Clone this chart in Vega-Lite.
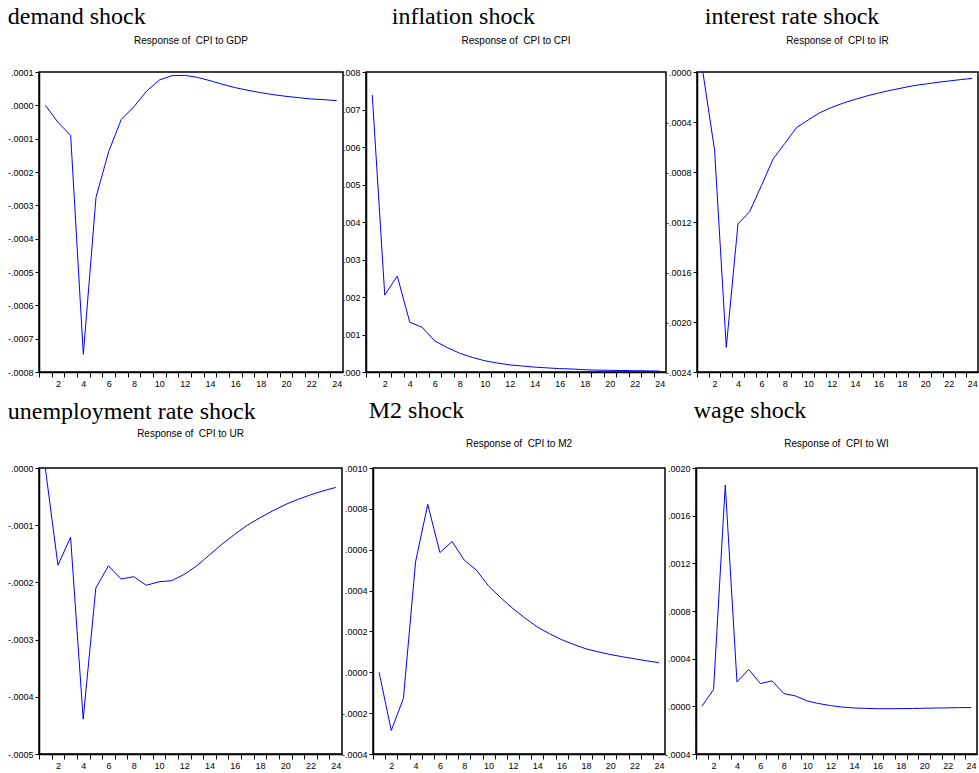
{
 "$schema": "https://vega.github.io/schema/vega-lite/v6.json",
 "background": "white",
 "padding": {"left": 6, "top": 5, "right": 0, "bottom": 0},
 "datasets": {
  "gdp": [{"period":1,"response":0.0},{"period":2,"response":-0.000051},{"period":3,"response":-0.00009},{"period":4,"response":-0.000747},{"period":5,"response":-0.000276},{"period":6,"response":-0.000139},{"period":7,"response":-0.000042},{"period":8,"response":-0.000004},{"period":9,"response":0.000043},{"period":10,"response":0.000076},{"period":11,"response":0.000089},{"period":12,"response":0.00009},{"period":13,"response":0.000084},{"period":14,"response":0.000074},{"period":15,"response":0.000063},{"period":16,"response":0.000053},{"period":17,"response":0.000045},{"period":18,"response":0.000038},{"period":19,"response":0.000032},{"period":20,"response":0.000027},{"period":21,"response":0.000023},{"period":22,"response":0.000019},{"period":23,"response":0.000017},{"period":24,"response":0.000014}],
  "cpi": [{"period":1,"response":0.00739},{"period":2,"response":0.00205},{"period":3,"response":0.00256},{"period":4,"response":0.00133},{"period":5,"response":0.00119},{"period":6,"response":0.00083},{"period":7,"response":0.00065},{"period":8,"response":0.0005},{"period":9,"response":0.00039},{"period":10,"response":0.0003},{"period":11,"response":0.00024},{"period":12,"response":0.00019},{"period":13,"response":0.00016},{"period":14,"response":0.00013},{"period":15,"response":0.00011},{"period":16,"response":0.00009},{"period":17,"response":0.00008},{"period":18,"response":0.00006},{"period":19,"response":0.00005},{"period":20,"response":0.000045},{"period":21,"response":0.00004},{"period":22,"response":0.000035},{"period":23,"response":0.00003},{"period":24,"response":0.000025}],
  "ir": [{"period":1,"response":0.0},{"period":2,"response":-0.000624},{"period":3,"response":-0.002203},{"period":4,"response":-0.001216},{"period":5,"response":-0.001117},{"period":6,"response":-0.000909},{"period":7,"response":-0.000696},{"period":8,"response":-0.000571},{"period":9,"response":-0.000445},{"period":10,"response":-0.000384},{"period":11,"response":-0.000325},{"period":12,"response":-0.000283},{"period":13,"response":-0.000248},{"period":14,"response":-0.000219},{"period":15,"response":-0.000192},{"period":16,"response":-0.000168},{"period":17,"response":-0.000147},{"period":18,"response":-0.000128},{"period":19,"response":-0.000109},{"period":20,"response":-0.000096},{"period":21,"response":-0.000083},{"period":22,"response":-0.000072},{"period":23,"response":-0.000061},{"period":24,"response":-0.000051}],
  "ur": [{"period":1,"response":0.0},{"period":2,"response":-0.00017},{"period":3,"response":-0.000121},{"period":4,"response":-0.000439},{"period":5,"response":-0.00021},{"period":6,"response":-0.000171},{"period":7,"response":-0.000194},{"period":8,"response":-0.00019},{"period":9,"response":-0.000205},{"period":10,"response":-0.000199},{"period":11,"response":-0.000197},{"period":12,"response":-0.000186},{"period":13,"response":-0.000171},{"period":14,"response":-0.000152},{"period":15,"response":-0.000133},{"period":16,"response":-0.000116},{"period":17,"response":-0.0001},{"period":18,"response":-0.000087},{"period":19,"response":-0.000075},{"period":20,"response":-0.000064},{"period":21,"response":-0.000055},{"period":22,"response":-0.000047},{"period":23,"response":-0.00004},{"period":24,"response":-0.000034}],
  "m2": [{"period":1,"response":0.0},{"period":2,"response":-0.000285},{"period":3,"response":-0.000128},{"period":4,"response":0.000541},{"period":5,"response":0.000822},{"period":6,"response":0.000586},{"period":7,"response":0.00064},{"period":8,"response":0.000549},{"period":9,"response":0.0005},{"period":10,"response":0.000422},{"period":11,"response":0.000365},{"period":12,"response":0.000312},{"period":13,"response":0.000265},{"period":14,"response":0.000222},{"period":15,"response":0.000189},{"period":16,"response":0.00016},{"period":17,"response":0.000136},{"period":18,"response":0.000115},{"period":19,"response":0.0001},{"period":20,"response":0.000087},{"period":21,"response":0.000076},{"period":22,"response":0.000066},{"period":23,"response":0.000056},{"period":24,"response":0.000047}],
  "wi": [{"period":1,"response":0.0},{"period":2,"response":0.000141},{"period":3,"response":0.001857},{"period":4,"response":0.000205},{"period":5,"response":0.000309},{"period":6,"response":0.000191},{"period":7,"response":0.000214},{"period":8,"response":0.000107},{"period":9,"response":0.000087},{"period":10,"response":0.000045},{"period":11,"response":0.000023},{"period":12,"response":0.000006},{"period":13,"response":-0.000006},{"period":14,"response":-0.000014},{"period":15,"response":-0.000017},{"period":16,"response":-0.00002},{"period":17,"response":-0.00002},{"period":18,"response":-0.000019},{"period":19,"response":-0.000018},{"period":20,"response":-0.000016},{"period":21,"response":-0.000014},{"period":22,"response":-0.000013},{"period":23,"response":-0.000011},{"period":24,"response":-0.00001}]
 },
 "spacing": 10,
 "vconcat": [
 {
 "columns": 3,
 "align": "none",
 "spacing": {"row": 0, "column": -3},
 "concat": [
  {
   "title": {"text": "demand shock", "font": "Liberation Serif", "fontSize": 24, "fontWeight": "normal", "color": "#000", "dx": 1, "offset": 6},
   "vconcat": [{
    "width": 304, "height": 300,
    "title": {"text": "Response of\u00a0 CPI to GDP", "font": "Liberation Sans Narrow, Arial Narrow, Liberation Sans", "fontSize": 10, "fontWeight": "normal", "color": "#000", "anchor": "middle", "offset": 22},
    "data": {"name": "gdp"},
    "mark": {"type": "line", "color": "#0000ff", "strokeWidth": 1},
    "encoding": {
     "x": {"field": "period", "type": "quantitative", "title": null, "scale": {"domain": [0.5, 24.5], "nice": false, "zero": false},
      "axis": {"values": [0.5,1.5,2.5,3.5,4.5,5.5,6.5,7.5,8.5,9.5,10.5,11.5,12.5,13.5,14.5,15.5,16.5,17.5,18.5,19.5,20.5,21.5,22.5,23.5], "labelExpr": "(datum.value - 1.5) % 2 == 0 ? format(datum.value + 0.5, 'd') : ''", "labelOffset": 6.3}},
     "y": {"field": "response", "type": "quantitative", "title": null, "scale": {"domain": [-0.0008, 0.0001], "nice": false, "zero": false},
      "axis": {"values": [-0.0008,-0.0007,-0.0006,-0.0005,-0.0004,-0.0003,-0.0002,-0.0001,0,0.0001], "labelExpr": "replace(replace(format(datum.value, '.4f'), '0.', '.'), '−', '-')"}}
    }
   }]
  },
  {
   "title": {"text": "inflation shock", "font": "Liberation Serif", "fontSize": 24, "fontWeight": "normal", "color": "#000", "dx": 50, "offset": 6},
   "vconcat": [{
    "width": 300, "height": 300,
    "title": {"text": "Response of\u00a0 CPI to CPI", "font": "Liberation Sans Narrow, Arial Narrow, Liberation Sans", "fontSize": 10, "fontWeight": "normal", "color": "#000", "anchor": "middle", "offset": 22},
    "data": {"name": "cpi"},
    "mark": {"type": "line", "color": "#0000ff", "strokeWidth": 1},
    "encoding": {
     "x": {"field": "period", "type": "quantitative", "title": null, "scale": {"domain": [0.5, 24.5], "nice": false, "zero": false},
      "axis": {"values": [0.5,1.5,2.5,3.5,4.5,5.5,6.5,7.5,8.5,9.5,10.5,11.5,12.5,13.5,14.5,15.5,16.5,17.5,18.5,19.5,20.5,21.5,22.5,23.5], "labelExpr": "(datum.value - 1.5) % 2 == 0 ? format(datum.value + 0.5, 'd') : ''", "labelOffset": 6.2}},
     "y": {"field": "response", "type": "quantitative", "title": null, "scale": {"domain": [0, 0.008], "nice": false, "zero": false},
      "axis": {"values": [0,0.001,0.002,0.003,0.004,0.005,0.006,0.007,0.008], "labelExpr": "replace(replace(format(datum.value, '.3f'), '0.', '.'), '−', '-')"}}
    }
   }]
  },
  {
   "title": {"text": "interest rate shock", "font": "Liberation Serif", "fontSize": 24, "fontWeight": "normal", "color": "#000", "dx": 40, "offset": 6},
   "vconcat": [{
    "width": 281, "height": 300,
    "title": {"text": "Response of\u00a0 CPI to IR", "font": "Liberation Sans Narrow, Arial Narrow, Liberation Sans", "fontSize": 10, "fontWeight": "normal", "color": "#000", "anchor": "middle", "offset": 22},
    "data": {"name": "ir"},
    "mark": {"type": "line", "color": "#0000ff", "strokeWidth": 1},
    "encoding": {
     "x": {"field": "period", "type": "quantitative", "title": null, "scale": {"domain": [0.5, 24.5], "nice": false, "zero": false},
      "axis": {"values": [0.5,1.5,2.5,3.5,4.5,5.5,6.5,7.5,8.5,9.5,10.5,11.5,12.5,13.5,14.5,15.5,16.5,17.5,18.5,19.5,20.5,21.5,22.5,23.5], "labelExpr": "(datum.value - 1.5) % 2 == 0 ? format(datum.value + 0.5, 'd') : ''", "labelOffset": 5.9}},
     "y": {"field": "response", "type": "quantitative", "title": null, "scale": {"domain": [-0.0024, 0], "nice": false, "zero": false},
      "axis": {"values": [-0.0024,-0.002,-0.0016,-0.0012,-0.0008,-0.0004,0], "labelExpr": "replace(replace(format(datum.value, '.4f'), '0.', '.'), '−', '-')"}}
    }
   }]
  }
 ]
 },
 {
 "columns": 3,
 "align": "none",
 "spacing": {"row": 0, "column": -3},
 "concat": [
  {
   "title": {"text": "unemployment rate shock", "font": "Liberation Serif", "fontSize": 24, "fontWeight": "normal", "color": "#000", "dx": 1, "offset": 4},
   "vconcat": [{
    "width": 303, "height": 286,
    "title": {"text": "Response of\u00a0 CPI to UR", "font": "Liberation Sans Narrow, Arial Narrow, Liberation Sans", "fontSize": 10, "fontWeight": "normal", "color": "#000", "anchor": "middle", "offset": 25},
    "data": {"name": "ur"},
    "mark": {"type": "line", "color": "#0000ff", "strokeWidth": 1},
    "encoding": {
     "x": {"field": "period", "type": "quantitative", "title": null, "scale": {"domain": [0.5, 24.5], "nice": false, "zero": false},
      "axis": {"values": [0.5,1.5,2.5,3.5,4.5,5.5,6.5,7.5,8.5,9.5,10.5,11.5,12.5,13.5,14.5,15.5,16.5,17.5,18.5,19.5,20.5,21.5,22.5,23.5], "labelExpr": "(datum.value - 1.5) % 2 == 0 ? format(datum.value + 0.5, 'd') : ''", "labelOffset": 6.3}},
     "y": {"field": "response", "type": "quantitative", "title": null, "scale": {"domain": [-0.0005, 0], "nice": false, "zero": false},
      "axis": {"values": [-0.0005,-0.0004,-0.0003,-0.0002,-0.0001,0], "labelExpr": "replace(replace(format(datum.value, '.4f'), '0.', '.'), '−', '-')"}}
    }
   }]
  },
  {
   "title": {"text": "M2 shock", "font": "Liberation Serif", "fontSize": 24, "fontWeight": "normal", "color": "#000", "dx": 28, "offset": 15},
   "vconcat": [{
    "width": 292, "height": 286,
    "title": {"text": "Response of\u00a0 CPI to M2", "font": "Liberation Sans Narrow, Arial Narrow, Liberation Sans", "fontSize": 10, "fontWeight": "normal", "color": "#000", "anchor": "middle", "offset": 15},
    "data": {"name": "m2"},
    "mark": {"type": "line", "color": "#0000ff", "strokeWidth": 1},
    "encoding": {
     "x": {"field": "period", "type": "quantitative", "title": null, "scale": {"domain": [0.5, 24.5], "nice": false, "zero": false},
      "axis": {"values": [0.5,1.5,2.5,3.5,4.5,5.5,6.5,7.5,8.5,9.5,10.5,11.5,12.5,13.5,14.5,15.5,16.5,17.5,18.5,19.5,20.5,21.5,22.5,23.5], "labelExpr": "(datum.value - 1.5) % 2 == 0 ? format(datum.value + 0.5, 'd') : ''", "labelOffset": 6.1}},
     "y": {"field": "response", "type": "quantitative", "title": null, "scale": {"domain": [-0.0004, 0.001], "nice": false, "zero": false},
      "axis": {"values": [-0.0004,-0.0002,0,0.0002,0.0004,0.0006,0.0008,0.001], "labelExpr": "replace(replace(format(datum.value, '.4f'), '0.', '.'), '−', '-')"}}
    }
   }]
  },
  {
   "title": {"text": "wage shock", "font": "Liberation Serif", "fontSize": 24, "fontWeight": "normal", "color": "#000", "dx": 30, "offset": 15},
   "vconcat": [{
    "width": 281, "height": 286,
    "title": {"text": "Response of\u00a0 CPI to WI", "font": "Liberation Sans Narrow, Arial Narrow, Liberation Sans", "fontSize": 10, "fontWeight": "normal", "color": "#000", "anchor": "middle", "offset": 15},
    "data": {"name": "wi"},
    "mark": {"type": "line", "color": "#0000ff", "strokeWidth": 1},
    "encoding": {
     "x": {"field": "period", "type": "quantitative", "title": null, "scale": {"domain": [0.5, 24.5], "nice": false, "zero": false},
      "axis": {"values": [0.5,1.5,2.5,3.5,4.5,5.5,6.5,7.5,8.5,9.5,10.5,11.5,12.5,13.5,14.5,15.5,16.5,17.5,18.5,19.5,20.5,21.5,22.5,23.5], "labelExpr": "(datum.value - 1.5) % 2 == 0 ? format(datum.value + 0.5, 'd') : ''", "labelOffset": 5.8}},
     "y": {"field": "response", "type": "quantitative", "title": null, "scale": {"domain": [-0.0004, 0.002], "nice": false, "zero": false},
      "axis": {"values": [-0.0004,0,0.0004,0.0008,0.0012,0.0016,0.002], "labelExpr": "replace(replace(format(datum.value, '.4f'), '0.', '.'), '−', '-')"}}
    }
   }]
  }
 ]
 }
 ],
 "config": {
  "view": {"stroke": "#000", "strokeWidth": 1.5},
  "axis": {"grid": false, "domainColor": "#000", "domainWidth": 1.5, "tickColor": "#000", "tickWidth": 1, "labelColor": "#000", "labelFont": "Liberation Sans Narrow, Arial Narrow, Liberation Sans", "labelFontSize": 9, "labelFlush": false, "labelOverlap": false, "labelPadding": 2},
  "axisX": {"tickSize": 5},
  "axisY": {"tickSize": 4}
 }
}
